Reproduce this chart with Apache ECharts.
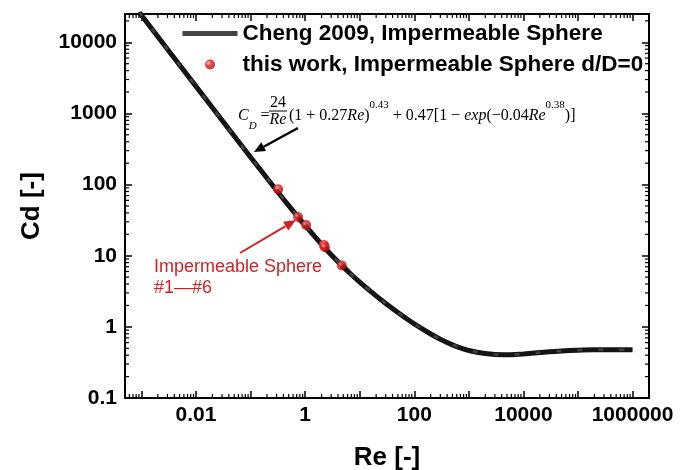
<!DOCTYPE html>
<html><head><meta charset="utf-8">
<script src="https://cdn.jsdelivr.net/npm/echarts@6/dist/echarts.min.js"></script>
<style>html,body{margin:0;padding:0;background:#fff}#c{width:692px;height:470px}</style>
</head><body><div id="c"></div>
<script>
// ---- data ----
const chengRe = [9e-4, 1e-3, 3e-3, 0.01, 0.03, 0.1, 0.3, 0.5, 1, 2, 3, 5, 7, 10, 20, 30, 50, 70, 100, 200, 300, 500, 700, 1000, 2000, 3000, 5000, 7000, 1e4, 2e4, 5e4, 1e5, 2e5, 5e5, 1e6];
const chengCd = [26670, 24000, 8003, 2403, 802.8, 242.8, 82.74, 50.70, 26.62, 14.47, 10.35, 6.965, 5.449, 4.256, 2.721, 2.131, 1.592, 1.326, 1.102, 0.794, 0.671, 0.559, 0.507, 0.466, 0.421, 0.409, 0.407, 0.410, 0.417, 0.435, 0.458, 0.470, 0.476, 0.476, 0.475];
const workRe = [0.32, 0.74, 1.04, 2.2, 2.3, 4.7];
const workCd = [86, 35, 27, 14.2, 13.2, 7.3];
const xTickValues = [0.01, 1, 100, 10000, 1000000];
const xTickLabels = ['0.01', '1', '100', '10000', '1000000'];
const yTickValues = [0.1, 1, 10, 100, 1000, 10000];
const yTickLabels = ['0.1', '1', '10', '100', '1000', '10000'];
const seriesNames = ['Cheng 2009, Impermeable Sphere', 'this work, Impermeable Sphere d/D=0'];

const X_MIN = 5e-4, X_MAX = 2e6, Y_MIN = 0.1, Y_MAX = 25000;

function fmt(values, labels) {
  return function (v) {
    for (let i = 0; i < values.length; i++) {
      if (Math.abs(Math.log10(v) - Math.log10(values[i])) < 1e-6) return labels[i];
    }
    return '';
  };
}
function minors(min, max) {
  const out = [];
  for (let e = Math.floor(Math.log10(min)); e <= Math.ceil(Math.log10(max)); e++) {
    for (let m = 2; m <= 9; m++) {
      const v = m * Math.pow(10, e);
      if (v > min * 1.0001 && v < max * 0.9999) out.push(v);
    }
  }
  return out;
}
const xMinor = minors(X_MIN, X_MAX);
const yMinor = minors(Y_MIN, Y_MAX);

function arrow(x1, y1, x2, y2, color, w, hl, hw) {
  const dx = x2 - x1, dy = y2 - y1, L = Math.hypot(dx, dy), ux = dx / L, uy = dy / L;
  const bx = x2 - ux * hl, by = y2 - uy * hl, px = -uy * hw, py = ux * hw;
  return [
    {type: 'line', z: 100, shape: {x1: x1, y1: y1, x2: bx, y2: by}, style: {stroke: color, lineWidth: w}},
    {type: 'polygon', z: 100, shape: {points: [[x2, y2], [bx + px, by + py], [bx - px, by - py]]}, style: {fill: color}}
  ];
}

const labelFont = {fontSize: 21, fontWeight: 'bold', color: '#000', fontFamily: 'Liberation Sans'};
const titleFont = {fontSize: 26, fontWeight: 'bold', color: '#000', fontFamily: 'Liberation Sans'};
const tickStyle = {color: '#000', width: 1.5};
const lineAx = {show: true, onZero: false, lineStyle: {color: '#000', width: 2}};

const serif = 'Liberation Serif';
const mathRich = {
  n: {fontFamily: serif, fontSize: 16, lineHeight: 32, fill: '#000'},
  i: {fontFamily: serif, fontSize: 16, lineHeight: 32, fontStyle: 'italic', fill: '#000'},
  sup: {fontFamily: serif, fontSize: 11, lineHeight: 12, verticalAlign: 'top', fill: '#000'},
  sub: {fontFamily: serif, fontSize: 11, lineHeight: 26, fontStyle: 'italic', verticalAlign: 'bottom', fill: '#000'}
};

const redCol = '#d02222';
const graphics = [
  {type: 'text', z: 100, style: {x: 238, y: 116, verticalAlign: 'middle', text: '{i|C}{sub|D}{n| =}', rich: mathRich}},
  {type: 'text', z: 100, style: {x: 278, y: 103, align: 'center', verticalAlign: 'middle', text: '24', fontFamily: serif, fontSize: 16, fill: '#000'}},
  {type: 'line', z: 100, shape: {x1: 269, y1: 111, x2: 287, y2: 111}, style: {stroke: '#000', lineWidth: 1}},
  {type: 'text', z: 100, style: {x: 278, y: 120, align: 'center', verticalAlign: 'middle', text: 'Re', fontFamily: serif, fontStyle: 'italic', fontSize: 16, fill: '#000'}},
  {type: 'text', z: 100, style: {x: 289, y: 116, verticalAlign: 'middle',
    text: '{n|(1 + 0.27}{i|Re}{n|)}{sup|0.43}{n| + 0.47[1 − }{i|exp}{n|(−0.04}{i|Re}{sup|0.38}{n|)]}', rich: mathRich}},
  {type: 'text', z: 100, style: {x: 154, y: 267, verticalAlign: 'middle', text: 'Impermeable Sphere', fontFamily: 'Liberation Sans', fontSize: 18, fill: redCol}},
  {type: 'text', z: 100, style: {x: 154, y: 288, verticalAlign: 'middle', text: '#1—#6', fontFamily: 'Liberation Sans', fontSize: 18, fill: redCol}}
].concat(arrow(298, 128, 254, 152, '#000', 2.5, 11, 5)).concat(arrow(240, 253, 296, 220, redCol, 2, 12, 5));

const curveData = chengRe.map((r, i) => [r, chengCd[i]]);

const chart = echarts.init(document.getElementById('c'), null, {renderer: 'canvas'});
chart.setOption({
  animation: false,
  backgroundColor: '#fff',
  grid: {left: 125, right: 43, top: 14, bottom: 72, containLabel: false, outerBoundsMode: 'none',
         show: true, borderColor: '#000', borderWidth: 2, backgroundColor: 'transparent'},
  legend: {
    orient: 'vertical', left: 180, top: 22, padding: 0, itemWidth: 55, itemHeight: 10, itemGap: 8, selectedMode: false,
    textStyle: {fontSize: 22.5, fontWeight: 'bold', fontFamily: 'Liberation Sans', color: '#000', lineHeight: 22},
    data: [
      {name: seriesNames[0], lineStyle: {width: 5, color: '#444'}, itemStyle: {opacity: 0, color: 'transparent', borderWidth: 0}},
      {name: seriesNames[1]}
    ]
  },
  xAxis: [
    {type: 'log', logBase: 10, min: X_MIN, max: X_MAX, splitNumber: 10, position: 'bottom',
     axisLine: lineAx, axisTick: {show: true, inside: true, length: 7, lineStyle: tickStyle},
     axisLabel: Object.assign({formatter: fmt(xTickValues, xTickLabels), margin: 7}, labelFont),
     splitLine: {show: false},
     name: 'Re [-]', nameLocation: 'middle', nameGap: 47, nameTextStyle: titleFont},
    {type: 'log', logBase: 10, min: X_MIN, max: X_MAX, splitNumber: 10, position: 'top',
     axisLine: lineAx, axisTick: {show: true, inside: true, length: 7, lineStyle: tickStyle},
     axisLabel: {show: false}, splitLine: {show: false}}
  ],
  yAxis: [
    {type: 'log', logBase: 10, min: Y_MIN, max: Y_MAX, splitNumber: 10, position: 'left',
     axisLine: lineAx, axisTick: {show: true, inside: true, length: 7, lineStyle: tickStyle},
     axisLabel: Object.assign({formatter: fmt(yTickValues, yTickLabels), margin: 8}, labelFont),
     splitLine: {show: false},
     name: 'Cd [-]', nameLocation: 'middle', nameGap: 80, nameRotate: 90, nameTextStyle: titleFont},
    {type: 'log', logBase: 10, min: Y_MIN, max: Y_MAX, splitNumber: 10, position: 'right',
     axisLine: lineAx, axisTick: {show: true, inside: true, length: 7, lineStyle: tickStyle},
     axisLabel: {show: false}, splitLine: {show: false}}
  ],
  series: [
    {type: 'line', name: seriesNames[0], data: curveData,
     symbol: 'none', showSymbol: false, smooth: 0.3, lineStyle: {color: '#141414', width: 5}, z: 3},
    {type: 'line', name: 'overlay', data: curveData, silent: true,
     symbol: 'none', showSymbol: false, smooth: 0.3, lineStyle: {color: '#6a6a6a', width: 2.5, type: [5, 16], opacity: 0.55}, z: 4},
    {type: 'scatter', name: seriesNames[1], data: workRe.map((r, i) => [r, workCd[i]]),
     symbol: 'circle', symbolSize: 10, z: 5,
     itemStyle: {color: {type: 'radial', x: 0.35, y: 0.35, r: 0.75,
       colorStops: [{offset: 0, color: '#ffb8b8'}, {offset: 0.35, color: '#e52222'}, {offset: 1, color: '#a00000'}]}}},
    {type: 'custom', silent: true, clip: false, z: 10, data: xMinor.map(v => [v, Y_MIN]),
     renderItem: function (params, api) {
       const v = api.value(0);
       const b = api.coord([v, Y_MIN]), t = api.coord([v, Y_MAX]);
       const st = {stroke: '#000', lineWidth: 1.2};
       return {type: 'group', children: [
         {type: 'line', shape: {x1: b[0], y1: b[1], x2: b[0], y2: b[1] - 4}, style: st},
         {type: 'line', shape: {x1: t[0], y1: t[1], x2: t[0], y2: t[1] + 4}, style: st}]};
     }},
    {type: 'custom', silent: true, clip: false, z: 10, data: yMinor.map(v => [X_MIN, v]),
     renderItem: function (params, api) {
       const v = api.value(1);
       const l = api.coord([X_MIN, v]), r = api.coord([X_MAX, v]);
       const st = {stroke: '#000', lineWidth: 1.2};
       return {type: 'group', children: [
         {type: 'line', shape: {x1: l[0], y1: l[1], x2: l[0] + 4, y2: l[1]}, style: st},
         {type: 'line', shape: {x1: r[0], y1: r[1], x2: r[0] - 4, y2: r[1]}, style: st}]};
     }}
  ],
  graphic: graphics
});
</script></body></html>
